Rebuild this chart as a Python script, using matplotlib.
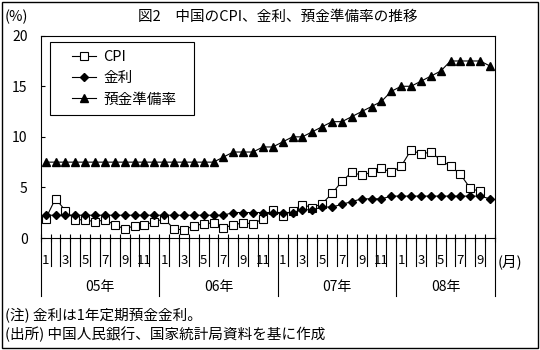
import numpy as np
import matplotlib
matplotlib.use("Agg")
import matplotlib.pyplot as plt
from matplotlib.patches import Rectangle

plt.rcParams['font.family'] = ['Noto Sans CJK JP', 'DejaVu Sans']

# monthly data, 2005/01 - 2008/10
years = ["05年", "06年", "07年", "08年"]
months_per_year = [12, 12, 12, 10]
cpi = [1.9, 3.9, 2.7, 1.8, 1.8, 1.6, 1.8, 1.3, 0.9, 1.2, 1.3, 1.6,
       1.9, 0.9, 0.8, 1.2, 1.4, 1.5, 1.0, 1.3, 1.5, 1.4, 1.9, 2.8,
       2.2, 2.7, 3.3, 3.0, 3.4, 4.4, 5.6, 6.5, 6.2, 6.5, 6.9, 6.5,
       7.1, 8.7, 8.3, 8.5, 7.7, 7.1, 6.3, 4.9, 4.6]
rate = [2.25] * 19 + [2.52] * 7 + [2.79, 2.79, 3.06, 3.06, 3.33, 3.60,
        3.87, 3.87, 3.87, 4.14] + [4.14] * 9 + [3.87]
rrr = [7.5] * 18 + [8.0, 8.5, 8.5, 8.5, 9.0, 9.0,
       9.5, 10.0, 10.0, 10.5, 11.0, 11.5, 11.5, 12.0, 12.5, 13.0, 13.5, 14.5,
       15.0, 15.0, 15.5, 16.0, 16.5, 17.5, 17.5, 17.5, 17.5, 17.0]
labels = ["CPI", "金利", "預金準備率"]

W, H = 540, 350
fig = plt.figure(figsize=(W / 100, H / 100), dpi=100)
L, R, T, B = 40.7, 495, 35.7, 238
ax = fig.add_axes([L / W, 1 - B / H, (R - L) / W, (B - T) / H])

n = len(rrr)
x = np.arange(n) + 0.5
lk = dict(color='black', lw=0.8)
ax.plot(x[:len(cpi)], cpi, marker='s', ms=5.5, mfc='white', mec='black', mew=0.8, label=labels[0], **lk)
ax.plot(x, rate, marker='D', ms=4.2, mfc='black', mec='black', label=labels[1], **lk)
ax.plot(x, rrr, marker='^', ms=6, mfc='black', mec='black', label=labels[2], **lk)

ax.set_xlim(0, n)
ax.set_ylim(0, 20)
ax.set_yticks(np.arange(0, 21, 5))
ax.tick_params(axis='y', direction='in', length=3, width=0.8, pad=9.5, labelsize=10)
ax.set_xticks(np.arange(n + 1))
ax.set_xticklabels([])
ax.tick_params(axis='x', direction='inout', length=6, width=0.8)
for s in ax.spines.values():
    s.set_linewidth(0.8)

# month / year label rows under the axis
px = 1.0 / (B - T)
xt = ax.get_xaxis_transform()
bounds = np.cumsum([0] + months_per_year)
for b in range(n + 1):
    low = -(296 - B) * px if b in bounds else -(266 - B) * px
    ax.plot([b, b], [0, low], color='black', lw=0.8, transform=xt, clip_on=False)
i = 0
for y_lab, m in zip(years, months_per_year):
    for k in range(m):
        if k % 2 == 0:
            ax.text(i + k + 0.5, -(261 - B) * px, str(k + 1), transform=xt,
                    ha='center', va='center', fontsize=9.5)
    ax.text(i + m / 2, -(287 - B) * px, y_lab, transform=xt,
            ha='center', va='center', fontsize=10)
    i += m

# legend
ax.legend(loc='upper left', bbox_to_anchor=((72 - L) / (R - L), (B - 50) * px),
          frameon=False, fontsize=10.5, handlelength=1.65, handletextpad=0.5,
          labelspacing=0.5, borderpad=0, borderaxespad=0)
ax.add_patch(Rectangle(((50 - L) / (R - L), (B - 115) * px), 144 / (R - L), 73 * px,
                       transform=ax.transAxes, fill=False, lw=0.8, ec='black'))

fig.text(278 / W, 1 - 17 / H, "図2　中国のCPI、金利、預金準備率の推移", ha='center', va='center', fontsize=10.5)
fig.text(5 / W, 1 - 17 / H, "(%)", ha='left', va='center', fontsize=10.5)
fig.text(498 / W, 1 - 262 / H, "(月)", ha='left', va='center', fontsize=10.5)
fig.text(5 / W, 1 - 316 / H, "(注) 金利は1年定期預金金利。", ha='left', va='center', fontsize=10.5)
fig.text(5 / W, 1 - 334 / H, "(出所) 中国人民銀行、国家統計局資料を基に作成", ha='left', va='center', fontsize=10.5)

fig.add_artist(Rectangle((1.5 / W, 2 / H), 536 / W, 346 / H, transform=fig.transFigure,
                         fill=False, lw=1, ec='black'))

fig.savefig("out.png", dpi=100)
